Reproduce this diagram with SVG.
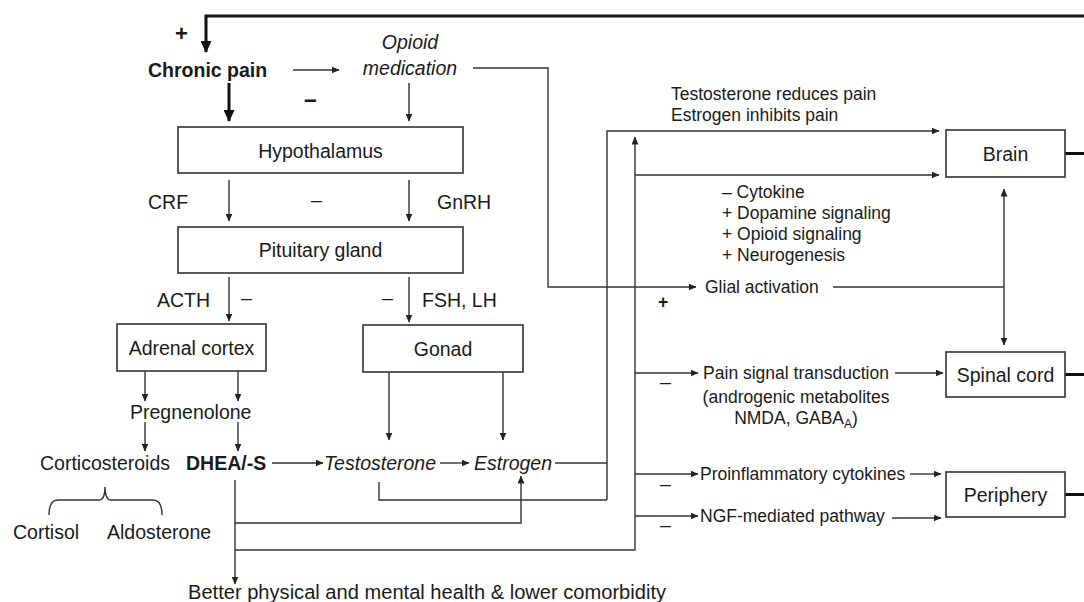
<svg xmlns="http://www.w3.org/2000/svg" width="1084" height="602" viewBox="0 0 1084 602">
<defs>
<marker id="a" markerUnits="userSpaceOnUse" markerWidth="8" markerHeight="7" refX="7.5" refY="3.5" orient="auto"><path d="M0,0 L8,3.5 L0,7 z" fill="#222"/></marker>
<marker id="ab" markerUnits="userSpaceOnUse" markerWidth="12" markerHeight="11" refX="11" refY="5.5" orient="auto"><path d="M0,0 L12,5.5 L0,11 z" fill="#111"/></marker>
<style>
text{font-family:"Liberation Sans",Arial,Helvetica,sans-serif;fill:#1a1a1a}
.l{font-size:19.5px}
.s{font-size:17.5px}
.b{font-weight:bold}
.i{font-style:italic}
.m{text-anchor:middle}
.box{fill:#fff;stroke:#333;stroke-width:1.6}
.c{fill:none;stroke:#333;stroke-width:1.4}
.ca{fill:none;stroke:#333;stroke-width:1.4;marker-end:url(#a)}
.t{fill:none;stroke:#111;stroke-width:3}
.ta{fill:none;stroke:#111;stroke-width:3;marker-end:url(#ab)}
</style>
</defs>
<g id="connectors">
<polyline class="ta" points="1084,16 206,16 206,52"/>
<line class="ca" x1="293" y1="70" x2="339" y2="70"/>
<line class="ta" x1="229" y1="83" x2="229" y2="121"/>
<line class="ca" x1="409" y1="83" x2="409" y2="121"/>
<polyline class="ca" points="473,68 548,68 548,287 696,287"/>
<line class="ca" x1="229" y1="180" x2="229" y2="221"/>
<line class="ca" x1="409" y1="180" x2="409" y2="221"/>
<line class="ca" x1="229" y1="277" x2="229" y2="321"/>
<line class="ca" x1="409" y1="277" x2="409" y2="322"/>
<line class="ca" x1="145" y1="371" x2="145" y2="401"/>
<line class="ca" x1="238" y1="371" x2="238" y2="401"/>
<line class="ca" x1="145" y1="422" x2="145" y2="451"/>
<line class="ca" x1="238" y1="422" x2="238" y2="451"/>
<line class="ca" x1="389" y1="372" x2="389" y2="440"/>
<line class="ca" x1="503" y1="372" x2="503" y2="440"/>
<line class="ca" x1="272" y1="463" x2="323" y2="463"/>
<line class="ca" x1="440" y1="463" x2="469" y2="463"/>
<path class="c" d="M49,515 Q49,500 58,500 L99,500 Q105,500 105,487 Q105,500 111,500 L153,500 Q162,500 162,515"/>
<line class="c" x1="555" y1="463" x2="607" y2="463"/>
<polyline class="c" points="379,482 379,500 607,500"/>
<polyline class="ca" points="607,500 607,131 939,131"/>
<line class="ca" x1="235" y1="480" x2="235" y2="584"/>
<polyline class="ca" points="235,523 521,523 521,476"/>
<polyline class="ca" points="235,550 635,550 635,137"/>
<line class="ca" x1="635" y1="175" x2="939" y2="175"/>
<line class="ca" x1="635" y1="373" x2="698" y2="373"/>
<line class="ca" x1="635" y1="474" x2="698" y2="474"/>
<line class="ca" x1="635" y1="516" x2="698" y2="516"/>
<line class="ca" x1="895" y1="373" x2="943" y2="373"/>
<line class="ca" x1="910" y1="474" x2="941" y2="474"/>
<line class="ca" x1="892" y1="518" x2="941" y2="518"/>
<line class="c" x1="833" y1="287" x2="1004" y2="287"/>
<line class="ca" x1="1004" y1="287" x2="1004" y2="189"/>
<line class="ca" x1="1004" y1="287" x2="1004" y2="345"/>
<line class="t" x1="1065" y1="153.5" x2="1084" y2="153.5"/>
<line class="t" x1="1065" y1="374.5" x2="1084" y2="374.5"/>
<line class="t" x1="1065" y1="494.5" x2="1084" y2="494.5"/>
</g>
<g id="signs">
<text class="b" font-size="22" x="175" y="41">+</text>
<text class="b" font-size="23" x="304" y="107">–</text>
<text class="l" x="311" y="207">–</text>
<text class="l" x="241" y="305">–</text>
<text class="l" x="382" y="305">–</text>
<text class="s b" x="658" y="308">+</text>
<text class="l" x="660" y="389">–</text>
<text class="l" x="660" y="491">–</text>
<text class="l" x="660" y="532">–</text>
</g>
<g id="chronic-pain"><text class="l b" x="148" y="77">Chronic pain</text></g>
<g id="opioid"><text class="l i m" x="410" y="49">Opioid</text><text class="l i m" x="410" y="75">medication</text></g>
<g id="hypothalamus"><rect class="box" x="178" y="127" width="285" height="46"/><text class="l m" x="320.5" y="158">Hypothalamus</text></g>
<g id="crf"><text class="l" x="148" y="209">CRF</text></g>
<g id="gnrh"><text class="l" x="437" y="209">GnRH</text></g>
<g id="pituitary"><rect class="box" x="178" y="227" width="285" height="46"/><text class="l m" x="320.5" y="257">Pituitary gland</text></g>
<g id="acth"><text class="l" x="157" y="307">ACTH</text></g>
<g id="fshlh"><text class="l" x="422" y="307">FSH, LH</text></g>
<g id="adrenal"><rect class="box" x="117" y="324" width="149" height="47"/><text class="l m" x="191.5" y="355">Adrenal cortex</text></g>
<g id="gonad"><rect class="box" x="363" y="325" width="160" height="47"/><text class="l m" x="443" y="356">Gonad</text></g>
<g id="pregnenolone"><text class="l" x="130" y="419">Pregnenolone</text></g>
<g id="corticosteroids"><text class="l" x="40" y="470">Corticosteroids</text></g>
<g id="dhea"><text class="l b" x="186" y="470">DHEA/-S</text></g>
<g id="testosterone"><text class="l i" x="324" y="470">Testosterone</text></g>
<g id="estrogen"><text class="l i" x="474" y="470">Estrogen</text></g>
<g id="cortisol"><text class="l" x="13" y="539">Cortisol</text></g>
<g id="aldosterone"><text class="l" x="107" y="539">Aldosterone</text></g>
<g id="outcome"><text font-size="20.1" x="188" y="599">Better physical and mental health &amp; lower comorbidity</text></g>
<g id="sex-effects"><text class="s" x="671" y="100">Testosterone reduces pain</text><text class="s" x="671" y="121">Estrogen inhibits pain</text></g>
<g id="brain-effects"><text class="s" x="722" y="198">– Cytokine</text><text class="s" x="722" y="219">+ Dopamine signaling</text><text class="s" x="722" y="240">+ Opioid signaling</text><text class="s" x="722" y="261">+ Neurogenesis</text></g>
<g id="glial"><text class="s" x="705" y="293">Glial activation</text></g>
<g id="pain-signal"><text class="s m" x="796" y="379">Pain signal transduction</text><text class="s m" x="796" y="403">(androgenic metabolites</text><text class="s m" x="796" y="424">NMDA, GABA<tspan font-size="12" dy="4">A</tspan><tspan dy="-4">)</tspan></text></g>
<g id="cytokines"><text class="s" x="700" y="480">Proinflammatory cytokines</text></g>
<g id="ngf"><text class="s" x="700" y="522">NGF-mediated pathway</text></g>
<g id="brain"><rect class="box" x="946" y="130" width="119" height="47"/><text class="l m" x="1005.5" y="161">Brain</text></g>
<g id="spinal-cord"><rect class="box" x="946" y="352" width="119" height="45"/><text class="l m" x="1005.5" y="382">Spinal cord</text></g>
<g id="periphery"><rect class="box" x="946" y="472" width="119" height="45"/><text class="l m" x="1005.5" y="502">Periphery</text></g>
</svg>
